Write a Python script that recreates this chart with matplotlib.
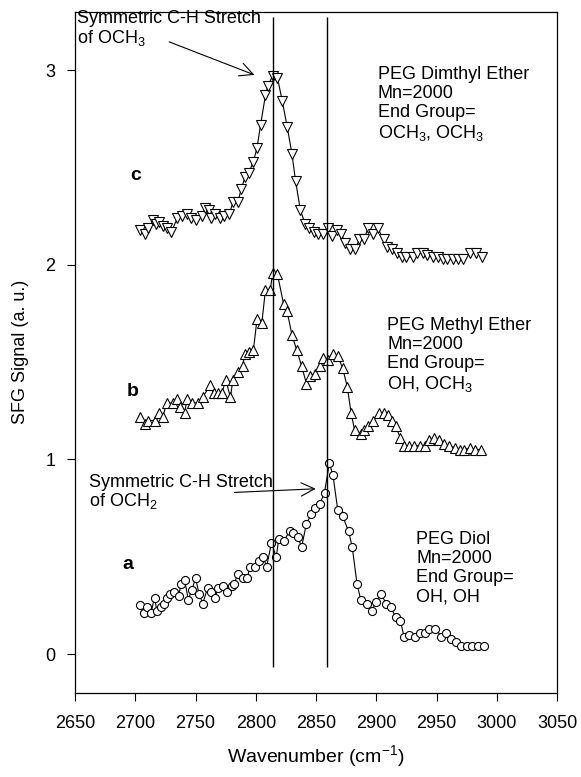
import matplotlib
matplotlib.use("Agg")
import matplotlib.pyplot as plt

plt.rcParams['font.family'] = ['Liberation Sans', 'DejaVu Sans']
plt.rcParams['mathtext.fontset'] = 'custom'
plt.rcParams['mathtext.rm'] = 'Liberation Sans'
plt.rcParams['mathtext.it'] = 'Liberation Sans:italic'

# curve c: PEG dimethyl ether (down triangles)
wn_c = [2704, 2708, 2711, 2715, 2717, 2720, 2723, 2726, 2730, 2735, 2739, 2743, 2746, 2750,
        2755, 2758, 2761, 2763, 2766, 2770, 2774, 2778, 2781, 2785, 2788, 2791, 2794, 2798,
        2801, 2804, 2808, 2810, 2814, 2818, 2822, 2826, 2830, 2833, 2837, 2841, 2844, 2848,
        2852, 2856, 2860, 2863, 2867, 2871, 2874, 2878, 2882, 2886, 2890, 2893, 2897, 2901,
        2906, 2909, 2913, 2917, 2921, 2925, 2930, 2934, 2939, 2942, 2947, 2951, 2955, 2959,
        2964, 2968, 2972, 2978, 2983, 2988]
sig_c = [2.18, 2.16, 2.19, 2.23, 2.21, 2.22, 2.20, 2.19, 2.17, 2.24, 2.25, 2.26, 2.24, 2.23,
         2.25, 2.29, 2.28, 2.24, 2.26, 2.24, 2.25, 2.26, 2.32, 2.32, 2.39, 2.45, 2.47, 2.53,
         2.60, 2.72, 2.87, 2.92, 2.97, 2.96, 2.84, 2.71, 2.57, 2.43, 2.28, 2.21, 2.19, 2.17,
         2.16, 2.16, 2.19, 2.15, 2.18, 2.16, 2.11, 2.08, 2.08, 2.13, 2.13, 2.19, 2.16, 2.19,
         2.13, 2.09, 2.08, 2.06, 2.04, 2.04, 2.04, 2.06, 2.06, 2.05, 2.04, 2.04, 2.03, 2.03,
         2.03, 2.03, 2.03, 2.06, 2.06, 2.04]

# curve b: PEG methyl ether (up triangles)
wn_b = [2704, 2708, 2711, 2716, 2720, 2723, 2726, 2731, 2735, 2737, 2741, 2743, 2747, 2752,
        2756, 2762, 2765, 2769, 2772, 2775, 2779, 2781, 2785, 2789, 2791, 2794, 2798, 2801,
        2805, 2808, 2812, 2814, 2818, 2823, 2826, 2830, 2834, 2838, 2842, 2845, 2849, 2853,
        2856, 2860, 2864, 2868, 2872, 2876, 2879, 2882, 2887, 2890, 2893, 2897, 2902, 2906,
        2910, 2913, 2916, 2920, 2923, 2927, 2931, 2936, 2940, 2944, 2948, 2952, 2956, 2960,
        2965, 2969, 2973, 2978, 2982, 2987]
sig_b = [1.22, 1.18, 1.20, 1.20, 1.24, 1.22, 1.29, 1.29, 1.31, 1.27, 1.24, 1.31, 1.29, 1.29,
         1.32, 1.38, 1.34, 1.34, 1.34, 1.41, 1.32, 1.41, 1.45, 1.48, 1.54, 1.55, 1.56, 1.72,
         1.70, 1.87, 1.87, 1.96, 1.95, 1.80, 1.76, 1.64, 1.56, 1.48, 1.39, 1.43, 1.44, 1.48,
         1.52, 1.51, 1.54, 1.53, 1.47, 1.37, 1.24, 1.15, 1.13, 1.15, 1.17, 1.20, 1.24, 1.24,
         1.23, 1.20, 1.17, 1.11, 1.07, 1.07, 1.07, 1.07, 1.07, 1.10, 1.11, 1.10, 1.08, 1.07,
         1.06, 1.05, 1.05, 1.06, 1.05, 1.05]

# curve a: PEG diol (circles)
wn_a = [2704, 2707, 2710, 2713, 2716, 2718, 2721, 2724, 2726, 2729, 2732, 2736, 2738, 2741,
        2744, 2747, 2750, 2753, 2756, 2760, 2763, 2766, 2769, 2773, 2776, 2780, 2782, 2785,
        2789, 2793, 2795, 2799, 2803, 2806, 2809, 2813, 2817, 2819, 2823, 2828, 2831, 2835,
        2838, 2842, 2846, 2849, 2853, 2857, 2861, 2864, 2868, 2872, 2877, 2880, 2884, 2887,
        2892, 2896, 2900, 2904, 2908, 2912, 2916, 2920, 2923, 2927, 2932, 2936, 2940, 2944,
        2949, 2954, 2958, 2962, 2966, 2970, 2975, 2979, 2984, 2989]
sig_a = [0.25, 0.21, 0.24, 0.21, 0.29, 0.22, 0.24, 0.26, 0.29, 0.31, 0.32, 0.30, 0.36, 0.38,
         0.28, 0.33, 0.39, 0.31, 0.26, 0.34, 0.32, 0.29, 0.34, 0.35, 0.32, 0.35, 0.36, 0.41,
         0.39, 0.39, 0.45, 0.45, 0.48, 0.50, 0.45, 0.57, 0.50, 0.59, 0.58, 0.63, 0.62, 0.60,
         0.55, 0.67, 0.72, 0.75, 0.77, 0.83, 0.98, 0.92, 0.74, 0.71, 0.63, 0.55, 0.36, 0.28,
         0.26, 0.22, 0.27, 0.31, 0.26, 0.24, 0.19, 0.17, 0.09, 0.10, 0.09, 0.11, 0.11, 0.13,
         0.13, 0.09, 0.11, 0.08, 0.06, 0.04, 0.04, 0.04, 0.04, 0.04]

# reference lines (C-H stretch positions)
peak_lines = [2814, 2859]

fig = plt.figure(figsize=(5.81, 7.77), dpi=100)
ax = fig.add_axes([0.129, 0.108, 0.830, 0.877])

mk = dict(color='black', lw=0.8, markerfacecolor='white', markeredgecolor='black',
          markeredgewidth=0.8)
ax.plot(wn_c, sig_c, marker='v', markersize=6.5, **mk)
ax.plot(wn_b, sig_b, marker='^', markersize=6.5, **mk)
ax.plot(wn_a, sig_a, marker='o', markersize=5.8, **mk)

ax.vlines(peak_lines, -0.065, 3.27, color='black', lw=1.0)

ax.set_xlim(2650, 3050)
ax.set_ylim(-0.2, 3.3)
ax.set_xticks(range(2650, 3051, 50))
ax.set_yticks([0, 1, 2, 3])
ax.tick_params(direction='out', labelsize=13, length=6, width=0.8)
ax.tick_params(axis='x', pad=10)
ax.tick_params(axis='y', pad=8)
for s in ax.spines.values():
    s.set_linewidth(0.9)

ax.set_xlabel('Wavenumber (cm$^{\\mathregular{-1}}$)', fontsize=14, labelpad=8)
ax.set_ylabel('SFG Signal (a. u.)', fontsize=13, labelpad=12)

# annotations
arrow = dict(arrowstyle='->', lw=0.8, color='black', mutation_scale=24)
ax.annotate('', xy=(2801, 2.97), xytext=(2726, 3.15), arrowprops=arrow)
ax.text(2652, 3.21, 'Symmetric C-H Stretch\nof OCH$_3$', fontsize=13,
        va='center', ha='left', linespacing=1.05)
ax.annotate('', xy=(2852, 0.85), xytext=(2780, 0.83), arrowprops=arrow)
ax.text(2662, 0.83, 'Symmetric C-H Stretch\nof OCH$_2$', fontsize=13,
        va='center', ha='left', linespacing=1.05)

ax.text(2700, 2.46, 'c', fontsize=14, fontweight='bold', ha='center', va='center')
ax.text(2698, 1.35, 'b', fontsize=14, fontweight='bold', ha='center', va='center')
ax.text(2694, 0.46, 'a', fontsize=14, fontweight='bold', ha='center', va='center')

ax.text(2901, 3.02, 'PEG Dimthyl Ether\nMn=2000\nEnd Group=\nOCH$_3$, OCH$_3$',
        fontsize=13, ha='left', va='top', linespacing=1.15)
ax.text(2909, 1.73, 'PEG Methyl Ether\nMn=2000\nEnd Group=\nOH, OCH$_3$',
        fontsize=13, ha='left', va='top', linespacing=1.15)
ax.text(2933, 0.63, 'PEG Diol\nMn=2000\nEnd Group=\nOH, OH',
        fontsize=13, ha='left', va='top', linespacing=1.15)

fig.savefig('out.png', dpi=100)
